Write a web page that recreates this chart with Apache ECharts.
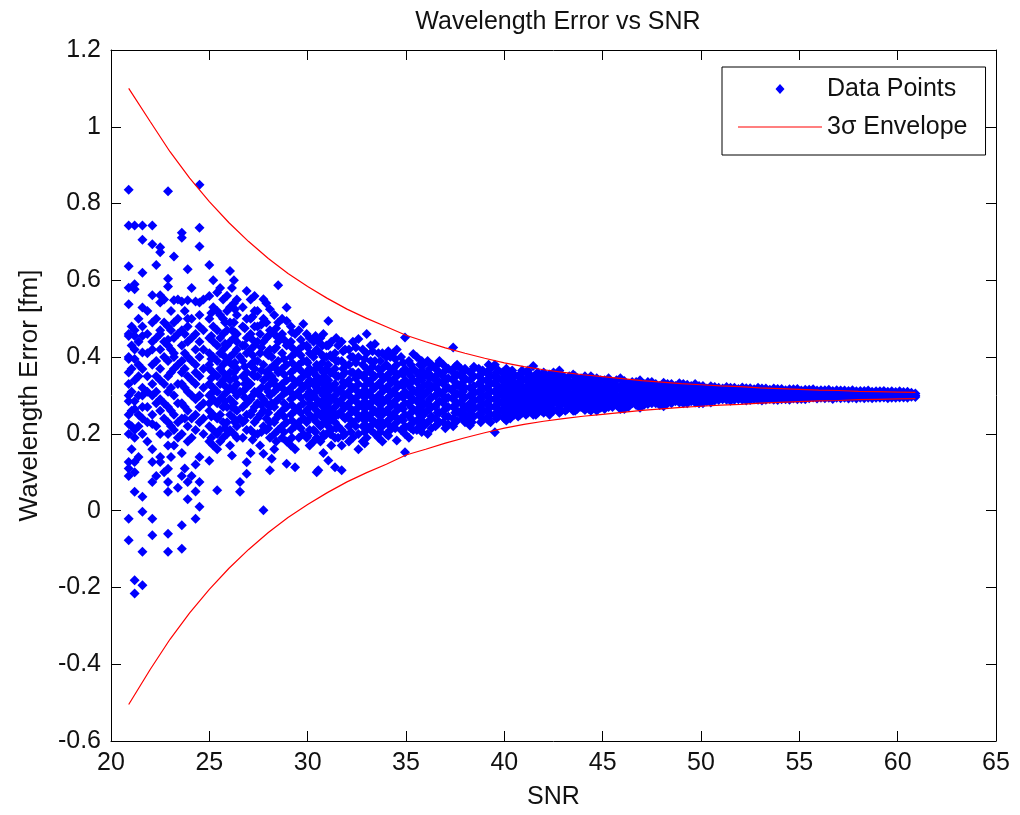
<!DOCTYPE html>
<html><head><meta charset="utf-8">
<script src="https://cdn.jsdelivr.net/npm/echarts@6/dist/echarts.min.js"></script>
<style>html,body{margin:0;padding:0;background:#fff}#c{width:1020px;height:815px}</style>
</head><body><div id="c"></div>
<script>
// ---- Envelope (3 sigma) ----
const envSNR = [20.9,22,23,24,25,26,27,28,29,30,31,32,33,34,35,36,37,38,39,40,41,42,43,44,45,46,47,48,49,50,51,52,53,54,55,56,57,58,59,60,60.9];
const envUpper = [1.100,1.013,0.935,0.866,0.805,0.750,0.701,0.657,0.618,0.584,0.553,0.525,0.501,0.479,0.457,0.440,0.424,0.410,0.397,0.385,0.375,0.367,0.360,0.354,0.349,0.344,0.339,0.335,0.331,0.328,0.325,0.323,0.320,0.318,0.316,0.314,0.313,0.311,0.310,0.309,0.308];
const envLower = [-0.505,-0.413,-0.335,-0.266,-0.205,-0.150,-0.101,-0.057,-0.018,0.016,0.047,0.075,0.099,0.121,0.145,0.160,0.176,0.190,0.203,0.215,0.225,0.233,0.240,0.246,0.251,0.256,0.261,0.265,0.269,0.272,0.275,0.277,0.280,0.282,0.284,0.286,0.287,0.289,0.290,0.291,0.292];

// ---- Data points, set 1: SNR columns and the errors read at each ----
const colSNR = [20.9,21.2,21.6,22.1,22.5,22.9,23.2,23.6,23.9,24.3,24.5,25.0,
  25.4,25.7,26.05,26.15,26.4,26.56,26.9,27.3,27.58,27.75,28.08,28.17,28.5,
  28.93,29.36,29.78,30.1,30.46,30.54,30.8,31.05,31.39,31.73,32.1,32.58,33.0,33.42,33.8,34.2,34.53,34.95,
  35.37,35.7,36.1,36.5,36.9,37.4,37.8,38.25,38.7,39.1,39.52,39.9,
  40.3,40.7,41.1,41.47,41.9,42.3,42.7,43.1,43.5,43.9,44.3,44.7,
  45.1,45.5,45.9,46.3,46.7,47.1,47.5,47.9,48.3,48.7,49.1,49.5,49.9,
  50.3,50.7,51.1,51.5,51.9,52.3,52.7,53.1,53.5,53.9,54.3,54.7,55.1,55.5,55.9,56.3,56.7,57.1,57.5,57.9,58.3,58.7,59.1,59.5,59.9,60.3,60.7,60.9];
const colErr = [
  [0.836,0.743,0.637,0.581,0.538,0.46,0.455,0.40,0.395,0.36,0.33,0.30,0.285,0.25,0.226,0.20,0.127,0.11,0.09,-0.021,-0.077],
  [0.743,0.590,0.577,0.47,0.455,0.42,0.395,0.34,0.285,0.265,0.21,0.19,0.127,0.10,0.049,-0.181,-0.216],
  [0.743,0.706,0.620,0.529,0.48,0.455,0.412,0.369,0.32,0.30,0.27,0.24,0.20,0.036,-0.003,-0.107,-0.194],
  [0.743,0.694,0.561,0.49,0.44,0.42,0.38,0.33,0.30,0.25,0.226,0.16,0.127,0.075,-0.021,-0.064],
  [0.686,0.673,0.561,0.542,0.47,0.46,0.42,0.37,0.34,0.29,0.26,0.20,0.14,0.127],
  [0.832,0.604,0.584,0.48,0.445,0.43,0.39,0.35,0.31,0.27,0.23,0.20,0.17,0.109,0.075,0.049,-0.06,-0.107],
  [0.662,0.548,0.49,0.45,0.41,0.40,0.37,0.30,0.25,0.21,0.17],
  [0.724,0.711,0.545,0.47,0.43,0.39,0.36,0.33,0.28,0.24,0.20,0.15,0.09,-0.038,-0.099],
  [0.629,0.548,0.50,0.48,0.44,0.40,0.35,0.31,0.26,0.22,0.18,0.075,0.03],
  [0.545,0.46,0.42,0.38,0.36,0.33,0.29,0.25,0.21,0.12,0.05,-0.021],
  [0.849,0.737,0.688,0.542,0.51,0.48,0.44,0.40,0.35,0.30,0.27,0.23,0.14,0.075,0.01],
  [0.640,0.559,0.50,0.45,0.41,0.38,0.37,0.33,0.30,0.28,0.26,0.22,0.18,0.13],
  [0.568,0.52,0.47,0.43,0.39,0.35,0.31,0.28,0.24,0.20,0.16,0.053],
  [0.55,0.50,0.46,0.42,0.38,0.36,0.34,0.30,0.27,0.23,0.19],
  [0.624,0.53,0.49,0.44,0.40,0.36,0.34,0.32,0.29,0.25,0.21,0.17],
  [0.58,0.47,0.38,0.27,0.144],
  [0.55,0.51,0.46,0.44,0.42,0.37,0.33,0.30,0.26,0.22,0.19],
  [0.40,0.31,0.24,0.075,0.049],
  [0.572,0.50,0.45,0.41,0.36,0.34,0.32,0.28,0.25,0.21,0.126,0.096],
  [0.559,0.52,0.48,0.43,0.39,0.37,0.35,0.31,0.27,0.23,0.20],
  [0.46,0.41,0.30,0.25,0.17],
  [0.551,0.50,0.44,0.38,0.34,0.29,0.26,0.22,0.148,0.001],
  [0.525,0.47,0.42,0.37,0.33,0.30,0.27,0.23,0.19,0.105],
  [0.40,0.35,0.28,0.135],
  [0.587,0.49,0.45,0.44,0.39,0.36,0.32,0.29,0.25,0.21],
  [0.529,0.494,0.43,0.38,0.34,0.31,0.27,0.23,0.18,0.122],
  [0.46,0.41,0.37,0.33,0.30,0.26,0.22,0.16,0.113],
  [0.486,0.43,0.39,0.35,0.32,0.28,0.24,0.20],
  [0.45,0.41,0.37,0.34,0.31,0.29,0.28,0.25,0.21,0.17],
  [0.42,0.38,0.35,0.32,0.29,0.26,0.23,0.19,0.10],
  [0.44,0.33,0.105],
  [0.46,0.40,0.36,0.33,0.30,0.27,0.24,0.20,0.15],
  [0.494,0.43,0.38,0.34,0.31,0.28,0.25,0.22,0.131],
  [0.41,0.37,0.33,0.30,0.27,0.23,0.19,0.113],
  [0.44,0.39,0.35,0.32,0.29,0.26,0.21,0.17,0.105],
  [0.42,0.38,0.34,0.31,0.28,0.25,0.22,0.18],
  [0.447,0.40,0.36,0.33,0.30,0.27,0.24,0.20,0.16],
  [0.46,0.41,0.37,0.34,0.31,0.28,0.25,0.22,0.19],
  [0.434,0.39,0.35,0.32,0.29,0.26,0.23,0.20],
  [0.41,0.37,0.34,0.31,0.28,0.25,0.22,0.18],
  [0.40,0.36,0.33,0.30,0.27,0.24,0.21],
  [0.42,0.38,0.35,0.32,0.29,0.26,0.23,0.183],
  [0.451,0.37,0.34,0.31,0.28,0.25,0.22,0.20,0.152],
  [0.408,0.37,0.34,0.31,0.29,0.26,0.23,0.21],
  [0.38,0.35,0.32,0.30,0.27,0.25,0.22],
  [0.39,0.36,0.33,0.31,0.28,0.26,0.23,0.20],
  [0.37,0.34,0.32,0.30,0.27,0.24,0.22],
  [0.38,0.35,0.33,0.30,0.28,0.26,0.23],
  [0.425,0.36,0.34,0.31,0.29,0.27,0.24,0.22],
  [0.37,0.35,0.32,0.30,0.28,0.25],
  [0.36,0.34,0.32,0.30,0.28,0.26,0.24,0.222],
  [0.37,0.35,0.33,0.31,0.29,0.27,0.25],
  [0.36,0.34,0.32,0.30,0.28,0.26,0.24],
  [0.38,0.35,0.33,0.31,0.29,0.27,0.25,0.204],
  [0.36,0.34,0.32,0.30,0.28,0.26],
  [0.36,0.34,0.32,0.30,0.28,0.26,0.24],
  [0.35,0.33,0.31,0.295,0.28,0.26,0.245],
  [0.36,0.34,0.32,0.30,0.285,0.265,0.25],
  [0.377,0.345,0.325,0.305,0.29,0.27,0.25],
  [0.35,0.33,0.31,0.295,0.28,0.26],
  [0.355,0.335,0.32,0.30,0.285,0.27,0.25],
  [0.35,0.33,0.315,0.30,0.285,0.265],
  [0.345,0.33,0.31,0.295,0.28,0.26],
  [0.355,0.335,0.32,0.305,0.29,0.275,0.26],
  [0.345,0.33,0.315,0.30,0.285,0.27],
  [0.34,0.325,0.31,0.295,0.28,0.265],
  [0.345,0.33,0.315,0.30,0.29,0.275,0.26],
  [0.34,0.325,0.31,0.30,0.29,0.275,0.265],
  [0.335,0.32,0.31,0.295,0.285,0.27],
  [0.345,0.325,0.315,0.30,0.29,0.28,0.265],
  [0.33,0.32,0.305,0.295,0.285,0.27],
  [0.335,0.32,0.31,0.30,0.29,0.275],
  [0.33,0.315,0.305,0.295,0.285,0.275],
  [0.335,0.32,0.31,0.30,0.29,0.28],
  [0.325,0.315,0.305,0.295,0.285,0.275],
  [0.33,0.32,0.31,0.30,0.29,0.28],
  [0.325,0.315,0.305,0.295,0.285],
  [0.33,0.32,0.31,0.30,0.29,0.28],
  [0.325,0.315,0.305,0.295,0.285],
  [0.325,0.315,0.305,0.295,0.285,0.28],
  [0.318,0.31,0.30,0.292,0.285],
  [0.322,0.312,0.303,0.295,0.287],
  [0.318,0.308,0.30,0.29],
  [0.32,0.311,0.302,0.293,0.286],
  [0.317,0.308,0.299,0.29],
  [0.319,0.31,0.301,0.293,0.287],
  [0.316,0.307,0.298,0.29],
  [0.318,0.309,0.30,0.292,0.287],
  [0.315,0.306,0.298,0.291],
  [0.317,0.308,0.30,0.293,0.288],
  [0.314,0.306,0.298,0.29],
  [0.316,0.307,0.30,0.292],
  [0.313,0.305,0.297,0.291],
  [0.315,0.307,0.30,0.293],
  [0.313,0.305,0.298,0.292],
  [0.314,0.306,0.299,0.293],
  [0.312,0.304,0.297,0.291],
  [0.313,0.306,0.299,0.293],
  [0.312,0.305,0.298,0.292],
  [0.311,0.304,0.297,0.292],
  [0.312,0.305,0.299,0.293],
  [0.31,0.304,0.298,0.293],
  [0.311,0.305,0.299,0.294],
  [0.31,0.304,0.298,0.293],
  [0.309,0.303,0.298,0.294],
  [0.309,0.304,0.299,0.295],
  [0.307,0.302,0.297],
  [0.305,0.30,0.296]
];

// ---- Data points, set 2: in-between SNR columns ----
const colSNR2 = [21.05,21.4,21.85,22.3,22.7,23.05,23.4,23.75,24.1,24.7,
  25.2,25.55,25.9,26.25,26.7,27.1,27.45,27.9,28.3,28.7,29.15,29.55,29.95,
  30.3,30.65,30.95,31.2,31.55,31.9,32.3,32.8,33.2,33.6,34.0,34.35,34.75,
  35.15,35.55,35.9,36.3,36.7,37.15,37.6,38.0,38.45,38.9,39.3,39.7,
  40.1,40.5,40.9,41.3,41.7,42.1,42.5,42.9,43.3,43.7,44.1,44.5,44.9,
  45.3,45.7,46.1,46.5,46.9,47.3,47.7,48.1,48.5,48.9,49.3,49.7,
  50.1,50.5,50.9,51.3,51.7,52.1,52.5,52.9,53.3,53.7,54.1,54.5,54.9,
  55.3,55.7,56.1,56.5,56.9,57.3,57.7,58.1,58.5,58.9,59.3,59.7,60.1,60.5];
const colErr2 = [
  [0.48,0.43,0.37,0.31,0.26,0.22,0.16],
  [0.50,0.44,0.38,0.35,0.30,0.25,0.22,0.14],
  [0.52,0.46,0.41,0.35,0.31,0.27,0.23,0.18],
  [0.64,0.50,0.45,0.39,0.35,0.31,0.28,0.22,0.09],
  [0.55,0.49,0.44,0.40,0.33,0.28,0.24,0.10],
  [0.52,0.47,0.42,0.36,0.32,0.26,0.22,0.14],
  [0.55,0.50,0.46,0.38,0.33,0.28,0.23,0.19,0.06],
  [0.52,0.46,0.41,0.37,0.32,0.27,0.24,0.11],
  [0.58,0.50,0.45,0.39,0.34,0.30,0.24,0.19,0.09],
  [0.55,0.47,0.42,0.37,0.32,0.28,0.24,0.20],
  [0.60,0.53,0.48,0.44,0.40,0.36,0.32,0.29,0.25,0.21,0.17],
  [0.58,0.51,0.45,0.41,0.37,0.33,0.29,0.25,0.21,0.18],
  [0.56,0.52,0.47,0.43,0.39,0.35,0.31,0.27,0.23,0.20],
  [0.60,0.54,0.49,0.45,0.41,0.36,0.32,0.28,0.24,0.20],
  [0.53,0.48,0.43,0.39,0.35,0.31,0.27,0.23,0.19],
  [0.55,0.50,0.46,0.42,0.38,0.33,0.29,0.25,0.21,0.15],
  [0.52,0.48,0.44,0.39,0.35,0.31,0.28,0.24,0.20],
  [0.54,0.49,0.45,0.41,0.36,0.32,0.28,0.24,0.21],
  [0.51,0.46,0.42,0.38,0.34,0.31,0.27,0.23,0.20,0.16],
  [0.50,0.46,0.41,0.37,0.33,0.30,0.26,0.22,0.19],
  [0.48,0.44,0.40,0.36,0.32,0.29,0.25,0.21,0.17],
  [0.47,0.42,0.38,0.34,0.31,0.27,0.23,0.19],
  [0.46,0.43,0.39,0.36,0.33,0.30,0.26,0.23,0.19],
  [0.44,0.40,0.36,0.33,0.30,0.27,0.24,0.21,0.18],
  [0.45,0.41,0.37,0.34,0.31,0.28,0.25,0.22,0.18],
  [0.43,0.40,0.37,0.345,0.32,0.29,0.26,0.23,0.20],
  [0.44,0.40,0.36,0.32,0.29,0.26,0.24,0.21,0.17],
  [0.43,0.39,0.35,0.31,0.28,0.25,0.22,0.19],
  [0.42,0.38,0.36,0.33,0.30,0.27,0.24,0.20],
  [0.44,0.40,0.36,0.32,0.29,0.26,0.23,0.19],
  [0.42,0.38,0.35,0.31,0.28,0.25,0.22,0.18],
  [0.43,0.39,0.36,0.33,0.30,0.27,0.24,0.21],
  [0.41,0.37,0.33,0.30,0.28,0.25,0.22,0.19],
  [0.40,0.38,0.35,0.32,0.29,0.26,0.23,0.20],
  [0.41,0.37,0.34,0.31,0.28,0.25,0.22],
  [0.40,0.36,0.33,0.30,0.27,0.24,0.21],
  [0.39,0.36,0.33,0.30,0.28,0.25,0.22,0.19],
  [0.40,0.36,0.335,0.31,0.285,0.26,0.235,0.21],
  [0.38,0.35,0.325,0.30,0.275,0.25,0.22],
  [0.38,0.35,0.325,0.295,0.27,0.245,0.215],
  [0.39,0.36,0.335,0.31,0.285,0.255,0.23],
  [0.37,0.345,0.32,0.295,0.27,0.245,0.225],
  [0.38,0.355,0.33,0.305,0.28,0.26,0.235],
  [0.37,0.345,0.32,0.295,0.27,0.25,0.23],
  [0.375,0.35,0.325,0.305,0.285,0.265,0.245],
  [0.365,0.34,0.32,0.30,0.28,0.26,0.24],
  [0.37,0.35,0.33,0.31,0.29,0.27,0.25,0.23],
  [0.365,0.345,0.325,0.305,0.285,0.265,0.245],
  [0.37,0.35,0.33,0.31,0.29,0.27,0.25,0.235],
  [0.355,0.335,0.315,0.30,0.285,0.27,0.25],
  [0.365,0.345,0.325,0.31,0.29,0.275,0.255],
  [0.355,0.335,0.315,0.30,0.28,0.26],
  [0.36,0.34,0.32,0.305,0.29,0.27,0.255],
  [0.345,0.325,0.31,0.29,0.275,0.26],
  [0.36,0.34,0.325,0.31,0.295,0.28,0.26],
  [0.355,0.34,0.32,0.305,0.29,0.275,0.26],
  [0.35,0.335,0.32,0.30,0.285,0.27],
  [0.345,0.33,0.31,0.295,0.28,0.265],
  [0.35,0.335,0.32,0.305,0.29,0.275,0.262],
  [0.345,0.33,0.315,0.30,0.285,0.27],
  [0.34,0.325,0.31,0.295,0.28,0.268],
  [0.345,0.33,0.315,0.30,0.285,0.27],
  [0.34,0.325,0.315,0.30,0.29,0.275],
  [0.338,0.325,0.31,0.30,0.29,0.278,0.265],
  [0.335,0.325,0.31,0.30,0.29,0.28],
  [0.34,0.325,0.315,0.30,0.29,0.28,0.268],
  [0.335,0.32,0.31,0.30,0.29,0.278],
  [0.33,0.32,0.31,0.30,0.29,0.28],
  [0.333,0.322,0.31,0.30,0.29,0.28,0.272],
  [0.33,0.32,0.31,0.30,0.29,0.28],
  [0.332,0.322,0.312,0.302,0.292,0.282],
  [0.328,0.318,0.308,0.298,0.288,0.28],
  [0.33,0.32,0.31,0.30,0.29,0.282],
  [0.325,0.315,0.305,0.296,0.288,0.28],
  [0.324,0.315,0.306,0.297,0.289,0.282],
  [0.32,0.312,0.304,0.296,0.288],
  [0.322,0.313,0.305,0.297,0.289],
  [0.32,0.312,0.304,0.296,0.289],
  [0.321,0.312,0.304,0.296,0.289],
  [0.319,0.311,0.303,0.295,0.288],
  [0.32,0.311,0.303,0.295,0.289],
  [0.318,0.31,0.302,0.295,0.289],
  [0.318,0.31,0.302,0.295,0.289],
  [0.317,0.309,0.302,0.295,0.29],
  [0.316,0.308,0.301,0.294,0.289],
  [0.317,0.309,0.302,0.295,0.29],
  [0.315,0.308,0.301,0.295,0.29],
  [0.316,0.308,0.301,0.295],
  [0.314,0.307,0.30,0.294],
  [0.315,0.307,0.30,0.294],
  [0.314,0.307,0.30,0.294],
  [0.313,0.306,0.30,0.294],
  [0.314,0.306,0.30,0.294],
  [0.312,0.305,0.299,0.294],
  [0.313,0.306,0.30,0.294],
  [0.311,0.305,0.299,0.294],
  [0.312,0.305,0.30,0.295],
  [0.311,0.305,0.299,0.294],
  [0.311,0.305,0.30,0.295],
  [0.31,0.304,0.298,0.294]
];

// ---- Data points, set 3: more columns in the dense middle band ----
const colSNR3 = [25.1,25.8,26.3,26.8,27.2,27.65,28.0,28.4,28.8,29.2,29.65,30.0,30.4,30.75,
  31.15,31.45,31.8,32.2,32.45,32.9,33.3,33.7,34.1,34.45,34.85,35.25,35.8,36.2,36.6,37.0,
  37.5,37.9,38.35,38.8,39.2,39.6,40.0,40.4,40.8,41.2,41.6,42.0,42.4,42.8,43.2,43.6,44.0,44.4,44.8];
const colErr3 = [
  [0.515,0.455,0.395,0.345,0.305,0.245,0.19],
  [0.49,0.435,0.40,0.325,0.285,0.215],
  [0.525,0.465,0.385,0.345,0.31,0.265,0.23],
  [0.475,0.43,0.375,0.33,0.295,0.235],
  [0.505,0.445,0.405,0.355,0.30,0.26,0.185],
  [0.485,0.425,0.365,0.32,0.275,0.205],
  [0.455,0.405,0.35,0.31,0.255,0.215],
  [0.475,0.425,0.37,0.325,0.285,0.24,0.18],
  [0.445,0.395,0.355,0.315,0.28,0.245,0.205],
  [0.465,0.425,0.385,0.345,0.305,0.275,0.235,0.19],
  [0.445,0.405,0.365,0.33,0.295,0.255,0.215],
  [0.425,0.385,0.355,0.325,0.265,0.235,0.195],
  [0.455,0.415,0.37,0.34,0.31,0.275,0.245,0.205],
  [0.43,0.385,0.345,0.315,0.285,0.255,0.225,0.19],
  [0.405,0.36,0.325,0.295,0.265,0.235,0.20],
  [0.45,0.39,0.35,0.315,0.285,0.25,0.215],
  [0.415,0.37,0.335,0.305,0.275,0.245,0.195],
  [0.40,0.36,0.325,0.295,0.265,0.235,0.205],
  [0.425,0.385,0.345,0.315,0.285,0.255,0.22],
  [0.395,0.355,0.325,0.295,0.265,0.235,0.205,0.175],
  [0.415,0.375,0.345,0.315,0.285,0.255,0.225],
  [0.39,0.355,0.325,0.295,0.265,0.235,0.205],
  [0.415,0.375,0.345,0.315,0.285,0.255,0.225,0.195],
  [0.395,0.36,0.335,0.305,0.275,0.245,0.215],
  [0.385,0.355,0.325,0.295,0.265,0.235,0.21],
  [0.38,0.35,0.32,0.295,0.27,0.24,0.215],
  [0.39,0.365,0.34,0.31,0.285,0.26,0.235,0.205],
  [0.37,0.345,0.315,0.29,0.265,0.235],
  [0.38,0.355,0.33,0.305,0.28,0.255,0.225],
  [0.365,0.34,0.315,0.29,0.265,0.245,0.215],
  [0.375,0.35,0.325,0.30,0.275,0.255,0.23],
  [0.36,0.335,0.31,0.29,0.265,0.24],
  [0.365,0.345,0.315,0.295,0.275,0.25,0.23],
  [0.355,0.335,0.31,0.29,0.27,0.25,0.23],
  [0.38,0.355,0.335,0.315,0.295,0.275,0.255,0.235],
  [0.36,0.34,0.315,0.295,0.275,0.255,0.24],
  [0.355,0.335,0.315,0.295,0.275,0.255,0.24],
  [0.365,0.345,0.325,0.305,0.29,0.27,0.25],
  [0.355,0.335,0.32,0.30,0.28,0.265,0.25],
  [0.365,0.345,0.325,0.31,0.29,0.275,0.255],
  [0.355,0.335,0.315,0.30,0.285,0.265,0.25],
  [0.36,0.34,0.325,0.305,0.29,0.27,0.255],
  [0.345,0.325,0.31,0.295,0.28,0.26],
  [0.365,0.345,0.325,0.31,0.295,0.275,0.255],
  [0.34,0.325,0.31,0.295,0.28,0.265],
  [0.35,0.335,0.32,0.305,0.29,0.275,0.26],
  [0.34,0.325,0.31,0.295,0.28,0.268],
  [0.35,0.335,0.32,0.305,0.29,0.275,0.26],
  [0.34,0.325,0.31,0.295,0.28,0.27]
];

const FONT = '"Liberation Sans", Arial, Helvetica, sans-serif';
const scatterData = [];
colSNR.forEach((s, i) => colErr[i].forEach(v => scatterData.push([s, v])));
colSNR2.forEach((s, i) => colErr2[i].forEach(v => scatterData.push([s, v])));
colSNR3.forEach((s, i) => colErr3[i].forEach(v => scatterData.push([s, v])));
const upperData = envSNR.map((s, i) => [s, envUpper[i]]);
const lowerData = envSNR.map((s, i) => [s, envLower[i]]);

const axisCommon = {
  axisLine: {show: true, onZero: false, lineStyle: {color: '#000', width: 1}},
  axisTick: {show: true, inside: true, length: 10, lineStyle: {color: '#000', width: 1}},
  splitLine: {show: false}
};
const labelStyle = {color: '#111', fontFamily: FONT, fontSize: 25};

const diamondIcon = 'path://M-42,0L-41.99,0L-42,0.01Z M0,-5L4.5,0L0,5L-4.5,0Z M42,0L41.99,0L42,0.01Z';
const lineIcon = 'path://M0,-5L0.01,-5L0,-4.99Z M0,-0.6L84,-0.6L84,0.6L0,0.6Z M0,5L0.01,5L0,4.99Z';

const chart = echarts.init(document.getElementById('c'), null, {renderer: 'canvas'});
chart.setOption({
  animation: false,
  backgroundColor: '#fff',
  title: {
    text: 'Wavelength Error vs SNR', left: 553, top: 5, textAlign: 'center',
    textStyle: {fontFamily: FONT, fontSize: 25, fontWeight: 'normal', color: '#111'}
  },
  grid: {left: 111, right: 24, top: 50, bottom: 72},
  xAxis: [
    Object.assign({type: 'value', min: 20, max: 65, interval: 5, position: 'bottom',
      axisLabel: Object.assign({margin: 10}, labelStyle),
      name: 'SNR', nameLocation: 'middle', nameGap: 44,
      nameTextStyle: Object.assign({}, labelStyle)}, axisCommon),
    Object.assign({type: 'value', min: 20, max: 65, interval: 5, position: 'top',
      axisLabel: {show: false}}, axisCommon)
  ],
  yAxis: [
    Object.assign({type: 'value', min: -0.6, max: 1.2, interval: 0.2, position: 'left',
      axisLabel: Object.assign({margin: 10}, labelStyle),
      name: 'Wavelength Error [fm]', nameLocation: 'middle', nameGap: 68,
      nameTextStyle: Object.assign({}, labelStyle, {fontSize: 26})}, axisCommon),
    Object.assign({type: 'value', min: -0.6, max: 1.2, interval: 0.2, position: 'right',
      axisLabel: {show: false}}, axisCommon)
  ],
  legend: {
    orient: 'vertical', left: 722, top: 67,
    padding: [9, 18, 15, 16],
    backgroundColor: '#fff', borderColor: '#000', borderWidth: 1,
    itemWidth: 84, itemHeight: 10, itemGap: 12,
    textStyle: {fontFamily: FONT, fontSize: 25, color: '#111', lineHeight: 26},
    data: [
      {name: 'Data Points', icon: diamondIcon, itemStyle: {color: '#0000ff', borderWidth: 0, opacity: 1}},
      {name: '3σ Envelope', icon: lineIcon, itemStyle: {color: '#ff0000', borderWidth: 0, opacity: 1}}
    ]
  },
  series: [
    {
      name: 'Data Points', type: 'scatter', symbol: 'diamond', symbolSize: 10,
      itemStyle: {color: '#0000ff', opacity: 1}, data: scatterData, z: 2
    },
    {
      name: '3σ Envelope', type: 'line', symbol: 'none', smooth: false,
      lineStyle: {color: '#ff0000', width: 1.2}, itemStyle: {color: '#ff0000'},
      data: upperData, z: 3
    },
    {
      name: '3σ Envelope', type: 'line', symbol: 'none', smooth: false,
      lineStyle: {color: '#ff0000', width: 1.2}, itemStyle: {color: '#ff0000'},
      data: lowerData, z: 3
    }
  ]
});
</script>
</body></html>
